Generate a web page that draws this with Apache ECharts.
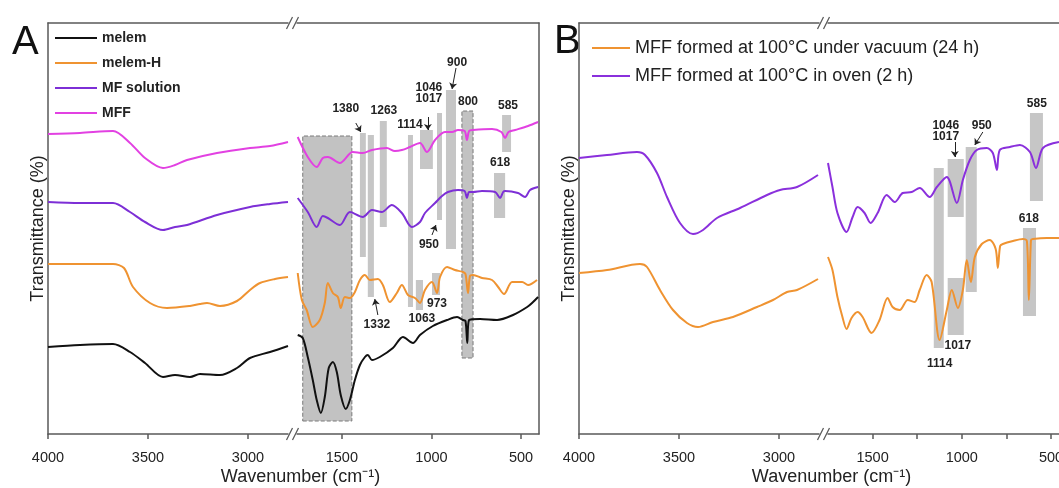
<!DOCTYPE html>
<html>
<head>
<meta charset="utf-8">
<script src="https://cdn.jsdelivr.net/npm/echarts@6.0.0/dist/echarts.min.js"></script>
<style>
  html, body { margin: 0; padding: 0; background: #fff; }
  #chart { width: 1059px; height: 488px; }
</style>
</head>
<body>
<div id="chart"></div>
<script>
// 光譜資料 [波數 cm-1, 透過率(任意單位)]，左段 4000-2800、右段 1750-400
const melemL = [[4000,87],[3840,89],[3675,90],[3590,82],[3515,71],[3425,57],[3365,59],[3290,57],[3240,60],[3140,59],[3055,66],[2990,76],[2890,82],[2800,88]]
const melemR = [[1746,99],[1718,96],[1690,77],[1662,54],[1640,34],[1617,21],[1595,37],[1573,66],[1550,72],[1528,62],[1506,39],[1478,25],[1455,34],[1427,54],[1399,69],[1371,77],[1355,79],[1332,74],[1288,77],[1215,86],[1159,97],[1103,91],[1064,99],[992,108],[913,114],[857,117],[824,114],[810,113],[800,91],[790,114],[729,115],[634,114],[545,119],[466,127],[433,132],[405,137]]
const melemHL = [[4000,170],[3840,170],[3675,170],[3620,166],[3575,147],[3490,131],[3405,126],[3290,128],[3240,130],[3205,131],[3140,128],[3055,133],[2990,144],[2940,151],[2865,155],[2800,157]]
const melemHR = [[1746,161],[1723,134],[1696,124],[1662,107],[1623,114],[1595,131],[1578,151],[1550,141],[1522,137],[1506,126],[1483,137],[1455,136],[1427,142],[1399,154],[1371,159],[1344,154],[1299,155],[1271,149],[1232,132],[1193,141],[1165,149],[1131,139],[1092,136],[1064,131],[1036,144],[997,152],[969,141],[952,157],[913,167],[869,164],[824,162],[810,160],[796,141],[785,158],[768,159],[718,156],[662,154],[628,147],[595,140],[550,152],[494,152],[461,149],[411,154]]
const mfL = [[4000,232],[3840,231],[3675,231],[3590,222],[3515,212],[3425,204],[3365,207],[3305,209],[3155,219],[2990,227],[2890,230],[2800,232]]
const mfR = [[1746,236],[1690,222],[1640,207],[1606,218],[1578,216],[1511,209],[1455,222],[1383,217],[1332,224],[1277,222],[1221,229],[1165,221],[1109,207],[1064,212],[1036,221],[980,231],[941,238],[908,242],[852,244],[815,243],[802,236],[790,242],[768,242],[718,243],[645,242],[617,236],[600,242],[589,243],[517,241],[478,237],[450,244],[405,247]]
const mffL = [[4000,300],[3840,301],[3675,303],[3590,291],[3515,276],[3425,266],[3365,269],[3305,274],[3155,281],[2990,286],[2890,288],[2800,292]]
const mffR = [[1746,297],[1690,277],[1640,267],[1606,276],[1578,277],[1511,271],[1439,282],[1383,281],[1332,284],[1249,286],[1204,283],[1165,284],[1120,287],[1064,291],[1025,282],[980,294],[925,302],[885,302],[852,304],[815,303],[802,294],[790,303],[768,304],[662,305],[610,302],[589,296],[570,302],[533,304],[461,308],[405,312]]

const vacL = [[4000,161],[3860,164],[3695,170],[3660,167],[3595,144],[3530,124],[3460,111],[3405,107],[3330,112],[3230,117],[3110,127],[3030,134],[2960,142],[2910,144],[2805,155]]
const vacR = [[1750,177],[1725,164],[1697,137],[1669,117],[1646,105],[1618,116],[1584,122],[1556,117],[1506,101],[1461,114],[1416,136],[1388,127],[1348,124],[1303,134],[1264,132],[1236,144],[1197,159],[1169,152],[1124,94],[1084,124],[1056,144],[1022,126],[994,144],[972,174],[949,152],[927,177],[888,190],[843,194],[810,185],[798,166],[785,188],[770,190],[713,193],[657,195],[635,193],[624,134],[612,194],[601,195],[523,196],[455,196]]
const ovenL = [[4000,276],[3860,279],[3710,282],[3670,279],[3610,261],[3560,237],[3495,211],[3430,200],[3380,204],[3310,216],[3195,226],[3060,239],[2995,244],[2910,247],[2805,259]]
const ovenR = [[1750,271],[1725,247],[1697,221],[1646,202],[1612,217],[1584,227],[1545,221],[1511,211],[1472,221],[1421,239],[1376,232],[1331,241],[1281,242],[1236,246],[1180,237],[1140,247],[1084,257],[1028,231],[994,254],[955,274],[916,284],[860,286],[826,281],[803,264],[787,284],[730,287],[674,289],[618,282],[584,266],[545,286],[455,292]]

// 灰色標示區 [波數1, 波數2, 下緣, 上緣]
const barsA = [[1399,1366,177,301],[1355,1321,137,299],[1288,1249,207,313],[1131,1103,127,299],[1087,1047,124,154],[1064,992,265,304],[969,941,214,321],[997,952,139,161],[919,863,185,344],[606,556,282,319],[651,589,216,261]]
const boxesA = [[1718,1444,13,298],[830,768,76,323]]
const barsB = [[1157,1101,86,266],[1079,989,217,275],[1079,989,99,156],[978,916,142,287],[618,545,233,321],[657,584,118,206]]

// 峰位標籤 [文字, 波數, 高度]
const labelsA = [['1380',1478,325],['1263',1265,323],['1114',1120,309],['1046',1014,346],['1017',1014,335],['900',857,371],['800',796,332],['585',573,328],['618',617,271],['950',1014,189],['1332',1304,109],['1063',1053,115],['973',969,130]]
const labelsB = [['585',579,330],['1046',1090,308],['1017',1090,297],['950',888,308],['618',624,215],['1017',1022,88],['1114',1124,70]]

// 箭頭 [起點波數, 起點高度, 終點波數, 終點高度]
const arrowsA = [[1422,311,1394,302],[1020,317,1020,304],[863,366,885,345],[997,199,975,209],[1299,119,1316,135]]
const arrowsB = [[1039,292,1039,277],[882,302,927,289]]

const namesA = ['melem', 'melem-H', 'MF solution', 'MFF']
const namesB = ['MFF formed at 100°C under vacuum (24 h)', 'MFF formed at 100°C in oven (2 h)']

const font = 'Liberation Sans, Arial, Helvetica, sans-serif'
const axisColor = '#595959'
const grayFill = '#c6c6c6'

const myChart = echarts.init(document.getElementById('chart'))

// 每個面板左右兩段，各一個 grid
const segs = [
  { left: 48, width: 240, min: 2800, max: 4000, ticks: [4000, 3500, 3000], labels: [4000, 3500, 3000], yLine: 'left' },
  { left: 297, width: 242, min: 400, max: 1750, ticks: [1500, 1000, 500], labels: [1500, 1000, 500], yLine: 'right' },
  { left: 579, width: 240, min: 2800, max: 4000, ticks: [4000, 3500, 3000], labels: [4000, 3500, 3000], yLine: 'left' },
  { left: 828, width: 231, min: 455, max: 1750, ticks: [1500, 1250, 1000, 750, 500], labels: [1500, 1000, 500], yLine: 'none' },
]

const lineStyle = { color: axisColor, width: 1.5 }

const grid = segs.map((s) => ({ left: s.left, width: s.width, top: 23, height: 411, outerBoundsMode: 'none', containLabel: false }))

const xAxis = []
segs.forEach((s, i) => {
  xAxis.push({
    type: 'value', gridIndex: i, position: 'bottom', inverse: true, min: s.min, max: s.max,
    axisLine: { show: true, onZero: false, lineStyle },
    axisTick: { show: true, length: 5, customValues: s.ticks, lineStyle },
    axisLabel: { customValues: s.labels, color: '#222', fontSize: 14.5, margin: 16, fontFamily: font, formatter: (v) => String(v), hideOverlap: false },
    splitLine: { show: false },
  })
})
segs.forEach((s, i) => {
  xAxis.push({
    type: 'value', gridIndex: i, position: 'top', inverse: true, min: s.min, max: s.max,
    axisLine: { show: true, onZero: false, lineStyle },
    axisTick: { show: false }, axisLabel: { show: false }, splitLine: { show: false },
  })
})

const yAxis = segs.map((s, i) => ({
  type: 'value', gridIndex: i, min: 0, max: 411,
  position: s.yLine === 'right' ? 'right' : 'left',
  axisLine: { show: s.yLine !== 'none', onZero: false, lineStyle },
  axisTick: { show: false }, axisLabel: { show: false }, splitLine: { show: false },
  name: s.yLine === 'left' ? 'Transmittance (%)' : '',
  nameLocation: 'middle', nameGap: 1,
  nameTextStyle: { fontSize: 18, color: '#222', fontFamily: font },
}))

const makeLine = (name, data, idx, color) => ({
  name, type: 'line', data, xAxisIndex: idx, yAxisIndex: idx,
  symbol: 'none', smooth: 0.3, silent: true,
  lineStyle: { color, width: 2 }, itemStyle: { color },
})

const markers = (bars, boxes, labels, arrows) => ({
  markArea: {
    silent: true,
    label: { show: false },
    data: bars.map((b) => [{ xAxis: b[0], yAxis: b[2], itemStyle: { color: grayFill } }, { xAxis: b[1], yAxis: b[3] }])
      .concat(boxes.map((b) => [{ xAxis: b[0], yAxis: b[2], itemStyle: { color: '#c2c2c2', borderColor: '#7a7a7a', borderWidth: 1, borderType: 'dashed' } }, { xAxis: b[1], yAxis: b[3] }])),
  },
  markPoint: {
    silent: true, symbol: 'circle', symbolSize: 1,
    itemStyle: { color: 'rgba(0,0,0,0)' },
    label: { show: true, position: 'inside', formatter: '{b}', color: '#222', fontSize: 12, fontWeight: 'bold', fontFamily: font },
    data: labels.map((l) => ({ name: l[0], coord: [l[1], l[2]] })),
  },
  markLine: {
    silent: true, symbol: ['none', 'arrow'], symbolSize: 6,
    label: { show: false },
    lineStyle: { color: '#222', width: 1, type: 'solid' },
    data: arrows.map((a) => [{ coord: [a[0], a[1]] }, { coord: [a[2], a[3]] }]),
  },
})

const colors = { melem: '#111111', melemH: '#ef9331', mf: '#7d2fd6', mff: '#e241e2', vac: '#ef9331', oven: '#8a30dc' }

const series = [
  makeLine(namesA[0], melemL, 0, colors.melem),
  makeLine(namesA[0], melemR, 1, colors.melem),
  makeLine(namesA[1], melemHL, 0, colors.melemH),
  makeLine(namesA[1], melemHR, 1, colors.melemH),
  makeLine(namesA[2], mfL, 0, colors.mf),
  makeLine(namesA[2], mfR, 1, colors.mf),
  makeLine(namesA[3], mffL, 0, colors.mff),
  Object.assign(makeLine(namesA[3], mffR, 1, colors.mff), markers(barsA, boxesA, labelsA, arrowsA)),
  makeLine(namesB[0], vacL, 2, colors.vac),
  makeLine(namesB[0], vacR, 3, colors.vac),
  makeLine(namesB[1], ovenL, 2, colors.oven),
  Object.assign(makeLine(namesB[1], ovenR, 3, colors.oven), markers(barsB, [], labelsB, arrowsB)),
]

const option = {
  animation: false,
  backgroundColor: '#fff',
  grid, xAxis, yAxis, series,
  legend: [
    {
      data: namesA, orient: 'vertical', left: 50, top: 26, icon: 'rect',
      itemWidth: 42, itemHeight: 2, itemGap: 11, selectedMode: false,
      textStyle: { fontWeight: 'bold', fontSize: 14, color: '#222', fontFamily: font },
    },
    {
      data: namesB, orient: 'vertical', left: 587, top: 34, icon: 'rect',
      itemWidth: 38, itemHeight: 2, itemGap: 10, selectedMode: false,
      textStyle: { fontSize: 18, color: '#222', fontFamily: font },
    },
  ],
}

myChart.setOption(option)

// 斷軸符號 //、面板字母、x 軸名稱
const breakMarks = []
const addBreak = (leftIdx, rightIdx, leftVal, rightVal) => {
  const xl = myChart.convertToPixel({ xAxisIndex: leftIdx }, leftVal)
  const xr = myChart.convertToPixel({ xAxisIndex: rightIdx }, rightVal)
  const cx = (xl + xr) / 2
  const yTop = myChart.convertToPixel({ yAxisIndex: leftIdx }, 411)
  const yBot = myChart.convertToPixel({ yAxisIndex: leftIdx }, 0)
  ;[yTop, yBot].forEach((y) => {
    ;[-3, 3].forEach((d) => {
      breakMarks.push({
        type: 'line', silent: true,
        shape: { x1: cx + d - 3, y1: y + 6, x2: cx + d + 3, y2: y - 6 },
        style: { stroke: axisColor, lineWidth: 1.2 },
      })
    })
  })
  return cx
}
const cA = addBreak(0, 1, 2800, 1750)
const cB = addBreak(2, 3, 2800, 1750)

const texts = [
  { type: 'text', left: 12, top: 23, style: { text: 'A', font: '40px ' + font, fill: '#111' } },
  { type: 'text', left: 554, top: 22, style: { text: 'B', font: '40px ' + font, fill: '#111' } },
  { type: 'text', x: cA + 8, y: 477, style: { text: 'Wavenumber (cm⁻¹)', font: '18px ' + font, fill: '#222', textAlign: 'center', textVerticalAlign: 'middle' } },
  { type: 'text', x: cB + 8, y: 477, style: { text: 'Wavenumber (cm⁻¹)', font: '18px ' + font, fill: '#222', textAlign: 'center', textVerticalAlign: 'middle' } },
]

myChart.setOption({ graphic: breakMarks.concat(texts) })
</script>
</body>
</html>
